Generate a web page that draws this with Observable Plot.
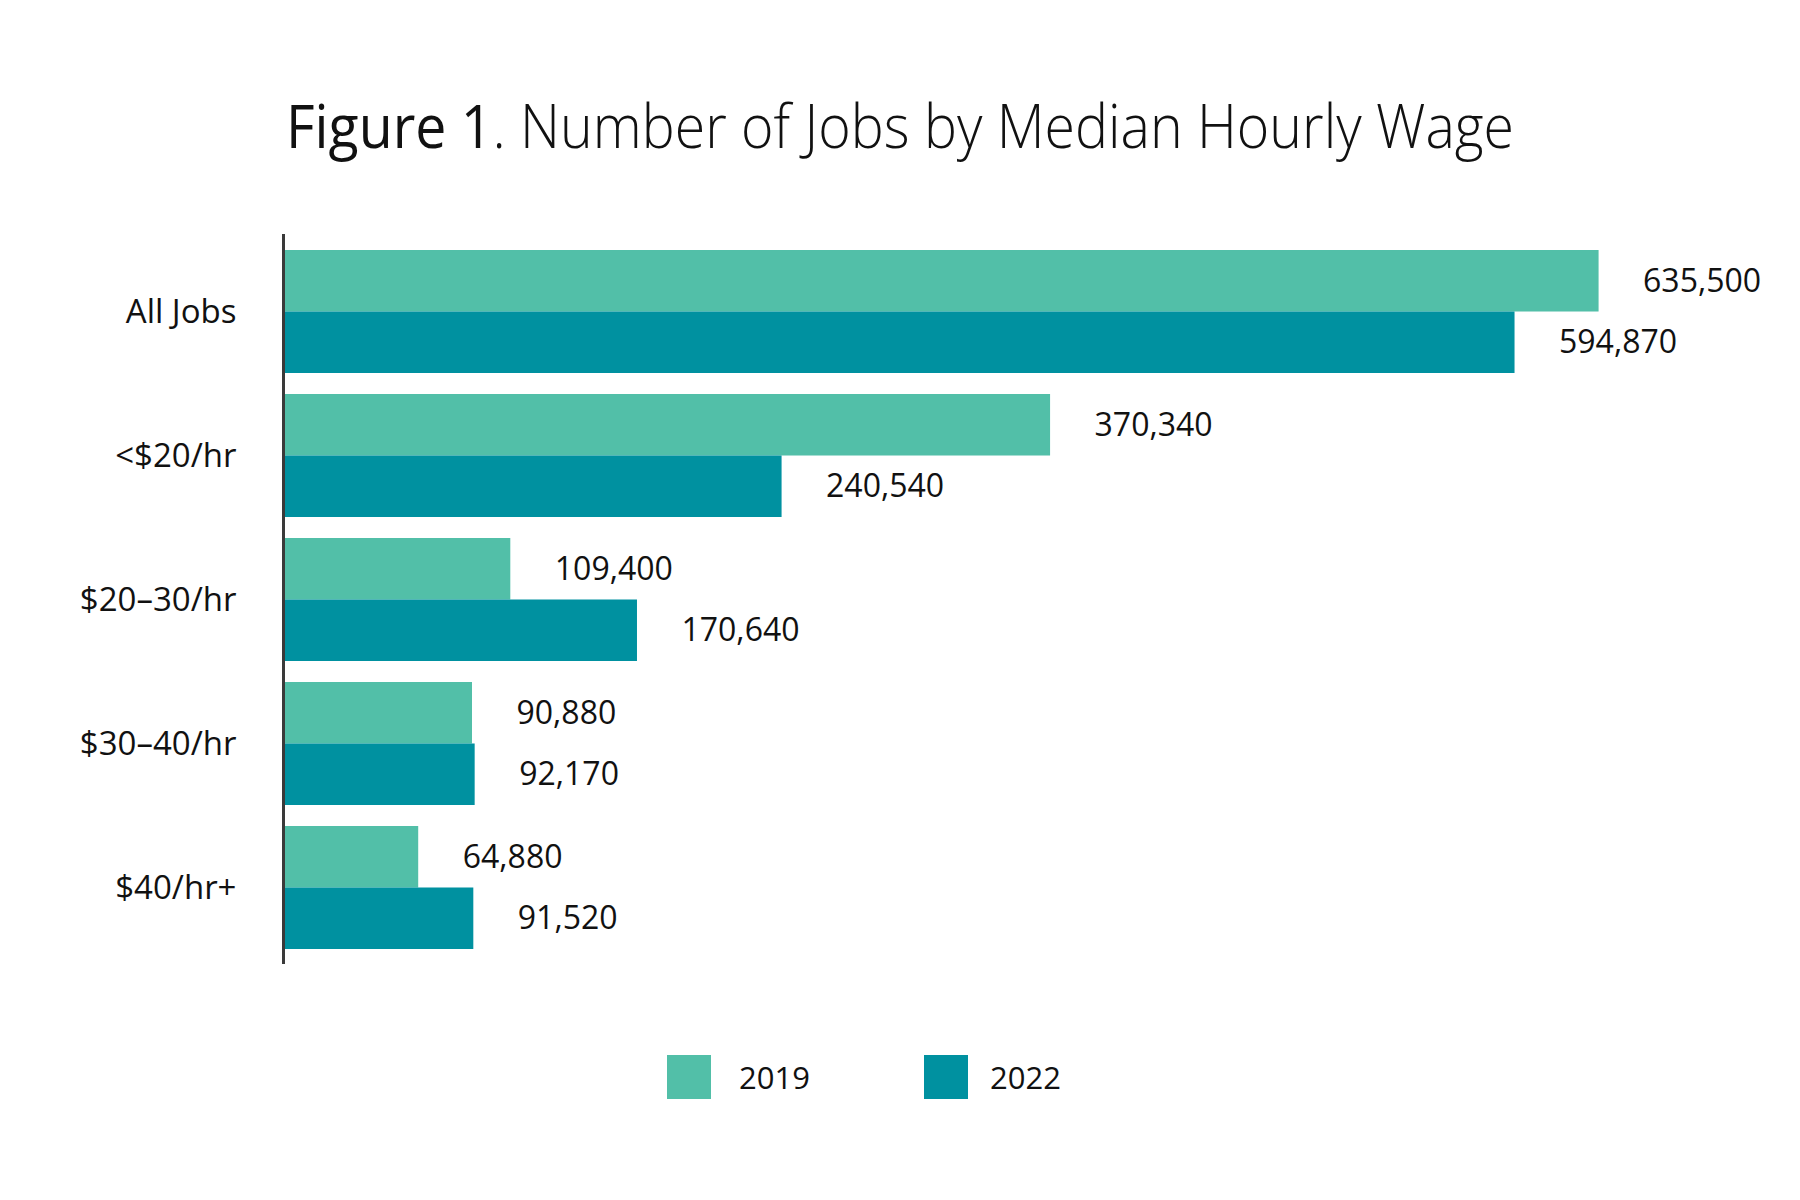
<!DOCTYPE html>
<html>
<head>
<meta charset="utf-8">
<script src="https://cdn.jsdelivr.net/npm/d3@7"></script>
<script src="https://cdn.jsdelivr.net/npm/@observablehq/plot@0.6"></script>
<style>
  html, body { margin: 0; padding: 0; background: #fff; }
  #wrap { position: relative; width: 1800px; height: 1200px; font-family: "Open Sans", "Noto Sans", sans-serif; color: #111; }
  #title { position: absolute; left: 286px; top: 83px; font-size: 61px; white-space: nowrap; transform-origin: left top; font-weight: 300; color: #111; }
  #title b { font-weight: 400; }
  #chart { position: absolute; left: 0; top: 200px; }
  #legend { position: absolute; top: 1055px; left: 0; width: 1800px; height: 44px; }
  .lg-item { position: absolute; top: 0; height: 44px; display: flex; align-items: center; font-size: 31px; }
  .lg-sw { width: 44px; height: 44px; }
</style>
</head>
<body>
<div id="wrap">
  <div id="title"><b>Figure 1</b>. Number of Jobs by Median Hourly Wage</div>
  <div id="chart"></div>
  <div id="legend"></div>
</div>
<script>
const categories = ["All Jobs", "<$20/hr", "$20–30/hr", "$30–40/hr", "$40/hr+"];
const years = ["2019", "2022"];
const jobs2019 = [635500, 370340, 109400, 90880, 64880];
const jobs2022 = [594870, 240540, 170640, 92170, 91520];
const colors = ["#52BFA8", "#0091A0"];

const rows2019 = categories.map((c, i) => ({category: c, year: "2019", value: jobs2019[i]}));
const rows2022 = categories.map((c, i) => ({category: c, year: "2022", value: jobs2022[i]}));

const W = 1800, H = 800, mTop = 34, mBottom = 36, mLeft = 284, mRight = 68;
const padIn = 0.149, padOut = 0.1;
const bw = d3.scaleBand().domain(categories).range([mTop, H - mBottom]).paddingInner(padIn).paddingOuter(padOut).bandwidth();
const fmt = d3.format(",");

const plot = Plot.plot({
  width: W,
  height: H,
  marginTop: mTop,
  marginBottom: mBottom,
  marginLeft: mLeft,
  marginRight: mRight,
  style: {fontFamily: "'Open Sans', 'Noto Sans', sans-serif", color: "#111", background: "#fff"},
  x: {domain: [0, 700000], axis: null},
  y: {domain: categories, paddingInner: padIn, paddingOuter: padOut, label: null, axis: null},
  marks: [
    Plot.barX(rows2019, {x: "value", y: "category", fill: colors[0], insetBottom: bw / 2}),
    Plot.barX(rows2022, {x: "value", y: "category", fill: colors[1], insetTop: bw / 2}),
    Plot.text(rows2019, {x: "value", y: "category", text: d => fmt(d.value), dy: -bw / 4, dx: 44, textAnchor: "start", fontSize: 32, fill: "#111"}),
    Plot.text(rows2022, {x: "value", y: "category", text: d => fmt(d.value), dy: bw / 4, dx: 44, textAnchor: "start", fontSize: 32, fill: "#111"}),
    Plot.ruleX([0], {stroke: "#3a3a3a", strokeWidth: 3, dx: -1}),
    Plot.axisY({tickSize: 0, tickPadding: 48, fontSize: 33, label: null, fill: "#111"})
  ]
});
document.getElementById("chart").appendChild(plot);

// legend
const legend = document.getElementById("legend");
const lgLeft = [667, 924];
const lgGap = [28, 22];
years.forEach((y, i) => {
  const item = document.createElement("div");
  item.className = "lg-item";
  item.style.left = lgLeft[i] + "px";
  item.innerHTML = `<div class="lg-sw" style="background:${colors[i]};margin-right:${lgGap[i]}px"></div><span>${y}</span>`;
  legend.appendChild(item);
});

// fit title width
const title = document.getElementById("title");
const tw = title.getBoundingClientRect().width;
title.style.transform = `scaleX(${1228 / tw})`;
</script>
</body>
</html>
